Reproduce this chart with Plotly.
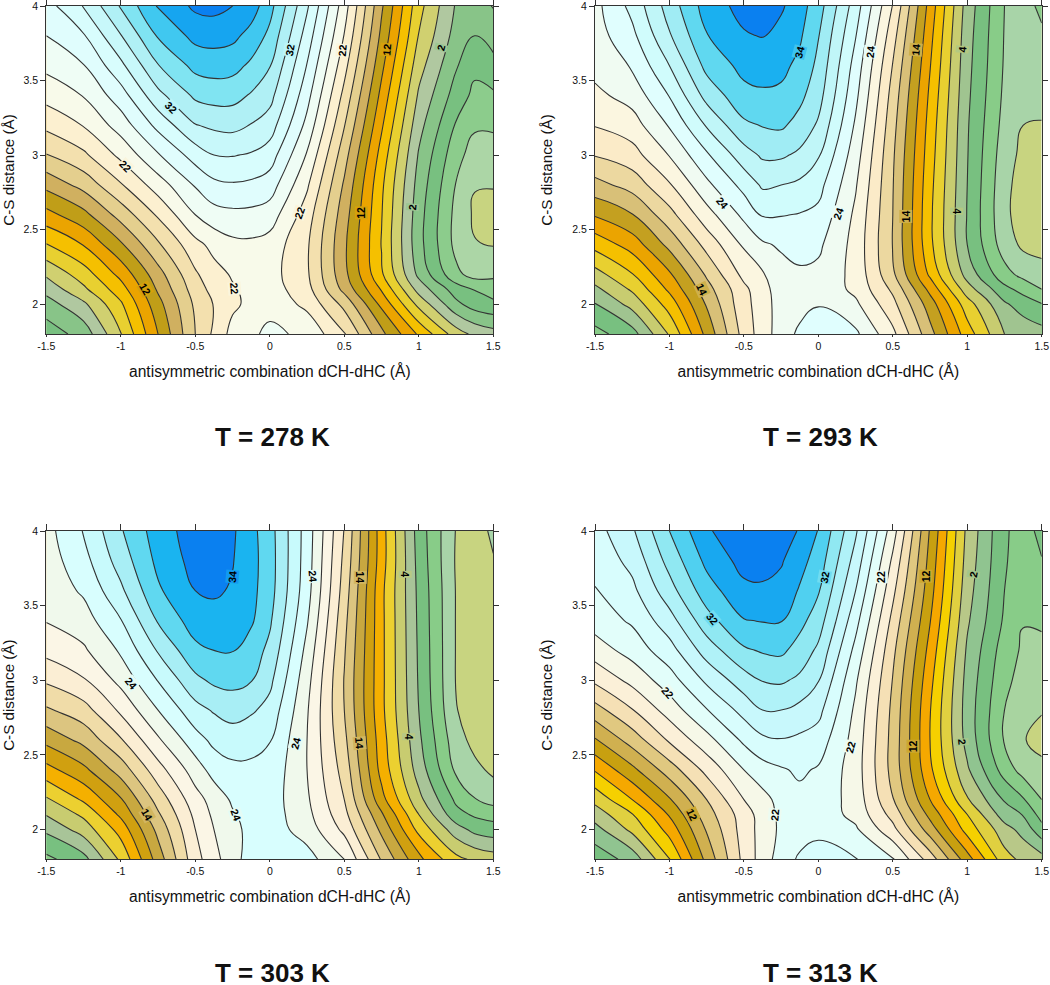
import plotly.graph_objects as go

X_VALUES = [-1.5, -1.25, -1.0, -0.75, -0.5, -0.375, -0.25, -0.125, 0.0, 0.25, 0.5, 0.75, 1.0, 1.25, 1.375, 1.5]
Y_VALUES = [4.0, 3.8, 3.6, 3.4, 3.2, 3.0, 2.8, 2.6, 2.4, 2.2, 2.1, 2.0, 1.8]
X_TICKS = [-1.5, -1, -0.5, 0, 0.5, 1, 1.5]
X_TICK_TEXT = ["-1.5", "-1", "-0.5", "0", "0.5", "1", "1.5"]
Y_TICKS = [2, 2.5, 3, 3.5, 4]
Y_TICK_TEXT = ["2", "2.5", "3", "3.5", "4"]
X_TITLE = "antisymmetric combination dCH-dHC (Å)"
Y_TITLE = "C-S distance (Å)"
TITLES = ["T = 278 K", "T = 293 K", "T = 303 K", "T = 313 K"]

# Rows run from y = 4 (top) down to y = 1.8
Z_278 = [
    [27.2, 30.1, 34.2, 38.2, 40.4, 40.6, 40.0, 39.0, 36.7, 30.3, 22.9, 14.3, 6.7, 1.8, 1.2, 2.1],
    [26.0, 27.8, 31.9, 36.2, 38.6, 38.8, 38.5, 37.3, 35.5, 29.1, 21.9, 13.5, 5.9, 1.2, 0.0, 0.9],
    [24.5, 25.9, 29.5, 33.9, 36.6, 36.9, 36.7, 35.6, 34.1, 27.9, 20.7, 12.5, 4.8, 0.2, -1.5, -0.7],
    [22.7, 24.1, 27.1, 31.4, 34.4, 34.8, 34.7, 33.8, 32.7, 26.7, 19.4, 11.4, 3.7, -0.9, -2.5, -2.3],
    [20.5, 22.1, 24.9, 28.6, 31.9, 32.4, 32.6, 31.9, 31.0, 25.4, 18.1, 10.3, 2.7, -2.2, -3.7, -3.7],
    [17.9, 19.6, 22.5, 25.8, 28.9, 30.0, 30.1, 29.8, 29.0, 23.8, 16.8, 9.2, 1.8, -3.3, -4.9, -4.9],
    [14.6, 16.7, 19.8, 23.0, 26.2, 27.5, 27.8, 27.6, 27.0, 22.3, 15.7, 8.4, 1.2, -4.1, -5.9, -5.9],
    [11.3, 13.4, 16.8, 20.3, 24.0, 25.2, 25.5, 25.45, 25.0, 21.0, 14.9, 8.1, 0.8, -4.6, -6.3, -6.6],
    [7.9, 10.1, 13.7, 17.7, 21.4, 22.6, 23.5, 23.6, 23.2, 20.3, 14.4, 7.9, 0.7, -4.6, -5.9, -6.1],
    [4.3, 7.0, 10.6, 15.2, 19.7, 21.3, 22.2, 22.7, 22.8, 20.3, 14.6, 8.3, 1.5, -3.5, -4.8, -4.4],
    [2.7, 5.6, 9.1, 14.3, 19.0, 20.7, 21.8, 22.5, 23.0, 20.7, 15.4, 9.8, 3.2, -1.0, -2.1, -3.0],
    [1.1, 3.6, 7.7, 13.3, 18.4, 20.1, 21.6, 22.5, 23.3, 21.5, 17.4, 11.5, 5.4, 0.5, -0.9, -1.5],
    [-1.1, 0.8, 5.9, 12.0, 18.0, 20.4, 22.7, 23.6, 24.5, 23.5, 20.2, 14.5, 9.7, 5.0, 3.5, 2.8],
]
Z_293 = [
    [23.4, 26.6, 30.9, 34.9, 36.7, 37.0, 36.3, 34.8, 32.9, 27.0, 19.9, 11.2, 3.1, -2.0, -2.7, -1.6],
    [23.1, 25.5, 29.8, 33.9, 35.8, 36.1, 35.3, 34.3, 32.1, 26.1, 18.8, 10.6, 2.8, -2.1, -2.9, -2.3],
    [22.7, 24.2, 28.0, 32.6, 34.6, 34.8, 34.5, 33.5, 31.5, 25.2, 17.9, 10.1, 2.6, -2.2, -3.3, -2.9],
    [21.5, 22.8, 26.1, 30.7, 33.4, 33.7, 33.6, 32.5, 30.8, 24.5, 17.2, 9.6, 2.4, -2.4, -3.7, -3.5],
    [20.1, 21.1, 24.2, 28.2, 31.6, 32.1, 32.3, 31.3, 29.7, 23.7, 16.7, 9.2, 2.2, -2.7, -4.0, -4.1],
    [18.1, 19.2, 22.1, 25.7, 29.1, 30.3, 30.3, 29.6, 28.2, 22.9, 16.3, 8.9, 2.1, -3.1, -4.5, -4.6],
    [15.3, 16.8, 19.8, 23.5, 26.7, 28.3, 28.0, 27.6, 26.7, 22.2, 16.1, 8.6, 2.0, -3.4, -4.9, -4.9],
    [12.2, 13.9, 17.3, 21.2, 24.5, 26.2, 26.1, 25.9, 25.5, 21.6, 16.0, 8.4, 1.9, -3.5, -5.0, -5.0],
    [8.7, 10.9, 14.6, 18.7, 22.3, 23.7, 24.3, 24.7, 24.4, 21.3, 15.9, 8.5, 2.0, -3.0, -4.4, -4.7],
    [5.2, 7.9, 11.7, 16.3, 20.6, 21.8, 23.2, 23.7, 23.5, 21.4, 16.4, 9.6, 3.2, -1.3, -2.6, -3.2],
    [3.5, 6.3, 10.4, 15.2, 19.5, 21.3, 23.0, 23.5, 23.5, 21.5, 17.6, 11.4, 4.9, 0.6, -0.7, -2.0],
    [1.9, 4.7, 8.9, 14.2, 19.4, 20.9, 23.1, 23.3, 23.9, 22.4, 18.6, 13.0, 6.9, 2.3, 1.1, 0.1],
    [-0.7, 1.2, 6.2, 12.6, 18.8, 21.0, 23.0, 24.4, 25.0, 24.4, 20.5, 14.7, 9.0, 4.0, 3.3, 2.8],
]
Z_303 = [
    [23.3, 26.1, 29.8, 33.0, 35.0, 35.4, 34.3, 32.6, 30.8, 25.1, 17.9, 8.9, 1.1, -4.1, -4.7, -3.7],
    [23.0, 25.3, 28.9, 32.5, 34.7, 35.2, 34.1, 32.7, 30.9, 25.0, 17.5, 8.9, 1.3, -4.2, -4.8, -4.1],
    [22.7, 24.3, 27.6, 31.7, 34.0, 34.3, 33.8, 32.6, 30.8, 24.8, 17.1, 8.5, 1.5, -4.1, -4.9, -4.6],
    [22.1, 23.1, 25.9, 30.2, 33.0, 33.2, 33.2, 32.3, 30.3, 24.2, 16.6, 8.5, 1.6, -4.1, -5.0, -4.9],
    [20.6, 21.7, 24.3, 28.2, 31.5, 32.0, 32.1, 31.0, 29.5, 23.4, 16.2, 8.5, 1.7, -4.1, -5.0, -5.1],
    [18.3, 19.8, 22.6, 26.1, 29.5, 30.4, 30.6, 30.1, 28.5, 22.7, 15.9, 8.5, 1.8, -4.1, -5.1, -5.2],
    [15.7, 17.2, 20.4, 24.0, 27.3, 28.2, 28.8, 28.3, 27.3, 22.2, 16.0, 8.5, 2.0, -3.9, -5.0, -5.3],
    [12.6, 14.6, 17.8, 21.7, 25.2, 26.5, 27.0, 26.5, 26.1, 22.0, 16.5, 8.9, 2.4, -3.2, -4.6, -5.1],
    [9.3, 11.5, 14.9, 19.2, 23.0, 24.8, 25.5, 25.7, 25.4, 22.0, 17.2, 9.3, 3.1, -2.4, -3.5, -4.4],
    [5.7, 8.3, 11.8, 16.8, 21.2, 22.8, 24.3, 25.0, 25.0, 22.3, 18.0, 10.7, 4.6, -0.4, -1.9, -2.8],
    [4.1, 6.4, 10.4, 15.7, 20.5, 22.4, 23.8, 24.7, 25.0, 22.6, 18.6, 12.3, 6.0, 0.7, -0.3, -0.8],
    [2.4, 4.9, 8.8, 14.6, 20.0, 22.0, 23.4, 24.6, 25.0, 23.1, 19.5, 13.5, 7.4, 2.9, 1.4, 0.9],
    [-0.5, 1.3, 6.4, 12.9, 19.3, 21.2, 23.4, 24.7, 25.6, 24.8, 22.0, 15.8, 10.5, 6.6, 5.6, 5.0],
]
Z_313 = [
    [25.2, 27.7, 32.0, 35.7, 37.6, 37.8, 37.1, 35.8, 33.9, 28.3, 20.9, 11.8, 3.5, -1.7, -2.9, -1.4],
    [24.6, 26.6, 30.7, 34.5, 36.7, 36.9, 36.2, 34.7, 33.1, 27.2, 19.6, 11.3, 3.2, -1.8, -3.0, -2.1],
    [23.9, 25.5, 29.2, 33.1, 35.5, 35.6, 35.3, 33.8, 32.2, 26.0, 18.5, 10.8, 2.8, -2.0, -3.4, -3.0],
    [22.9, 24.3, 27.2, 31.2, 33.9, 34.1, 34.1, 32.6, 31.0, 24.7, 17.4, 10.1, 2.3, -2.3, -3.9, -3.7],
    [21.0, 22.8, 25.2, 28.9, 31.7, 32.2, 32.4, 31.2, 29.6, 23.4, 16.5, 9.3, 1.7, -3.0, -4.3, -4.5],
    [18.4, 20.6, 23.1, 26.4, 29.1, 30.1, 30.3, 29.6, 28.1, 22.3, 15.9, 8.6, 1.3, -3.5, -4.7, -5.0],
    [15.2, 17.9, 20.9, 23.9, 26.7, 28.0, 28.0, 27.4, 26.6, 21.6, 15.5, 8.1, 1.1, -4.0, -5.4, -5.9],
    [11.8, 14.9, 18.3, 21.3, 24.4, 25.6, 25.9, 25.6, 25.1, 21.2, 15.3, 8.0, 1.3, -4.2, -5.9, -6.5],
    [8.2, 11.5, 15.0, 18.6, 22.0, 23.2, 23.8, 24.3, 23.8, 21.0, 15.3, 8.4, 2.3, -2.9, -4.8, -5.6],
    [4.6, 8.0, 11.8, 16.0, 20.0, 21.3, 22.7, 23.5, 23.3, 21.2, 16.1, 10.0, 4.2, -0.2, -1.8, -4.0],
    [2.9, 5.9, 10.2, 15.1, 19.0, 20.9, 22.5, 23.2, 23.2, 21.4, 17.3, 11.4, 6.0, 1.0, -0.1, -2.8],
    [1.3, 4.5, 8.8, 14.2, 18.9, 20.8, 22.4, 23.1, 23.6, 22.3, 18.6, 13.0, 7.2, 2.8, 1.3, -1.3],
    [-1.3, 0.8, 5.9, 12.6, 18.6, 20.9, 23.0, 24.3, 24.7, 24.1, 22.2, 17.1, 10.9, 4.8, 3.5, 2.8],
]
GRIDS = [Z_278, Z_293, Z_303, Z_313]

START_LEVELS = [-6, -4, -4, -6]
END_LEVELS = [40, 36, 34, 36]

COLORS_278 = ["#c8d480", "#acd6a6", "#8ccc8c", "#78c080", "#88c488", "#b0c8a0", "#d0d070", "#e8d030",
              "#f5c000", "#eba400", "#c09e18", "#d0b060", "#e4cf8e", "#f3e0ae", "#fcf0d0", "#f8faea",
              "#effdf5", "#e0fdfd", "#d8fdfd", "#c8f8fa", "#b0f0f5", "#80e4f2", "#40c8f0", "#16a5f0", "#0a80f0"]
COLORS_293 = ["#c8d480", "#a8d4a8", "#88cc88", "#78c080", "#a0c490", "#c8cc70", "#e8d030", "#f5c000",
              "#eba400", "#c4a020", "#d8c078", "#ecd8a0", "#fbebc8", "#fbf6e0", "#f0fbf2", "#e0fefe",
              "#d0fcfc", "#c0f6f8", "#a0ecf4", "#60d8f0", "#1ab0f0", "#0a80f0"]
COLORS_303 = ["#c8d480", "#a8d4a8", "#88cc88", "#78c080", "#a8c498", "#c8cc70", "#ecd030", "#f5b000",
              "#d0a010", "#c8a840", "#dcc580", "#f0dca8", "#fbeed4", "#fbf6e6", "#f0f9ec", "#d8fefe",
              "#c8fafc", "#a8eef5", "#60d8f0", "#1ab4f0", "#0a80f0"]
COLORS_313 = ["#c8d480", "#a8d4a0", "#88cc88", "#78c080", "#90c490", "#b8c888", "#e0d040", "#f5d000",
              "#f5a800", "#c8a010", "#d0b050", "#e0c880", "#f5e0b5", "#fbf0d8", "#f6f8e8", "#e2fefa",
              "#d8fdfd", "#c8f8fc", "#b0f2f8", "#90e8f2", "#50d0f0", "#18a8f0", "#0a80f0"]
PALETTES = [COLORS_278, COLORS_293, COLORS_303, COLORS_313]

# (level, x, y, angle)
LABELS_278 = [(32, 0.135, 3.705, -80), (32, -0.666, 3.32, 45), (22, -0.968, 2.93, 45), (22, 0.20, 2.61, -70),
              (22, -0.234, 2.105, 85), (12, -0.838, 2.10, 60), (12, 0.616, 2.61, -90), (12, 0.784, 3.705, -85),
              (22, 0.487, 3.705, -85), (2, 1.147, 3.72, -75), (2, 0.956, 2.653, -85)]
LABELS_293 = [(34, -0.128, 3.693, -75), (24, 0.347, 3.693, -85), (14, 0.654, 3.705, -85), (4, 0.967, 3.711, -85),
              (24, -0.645, 2.676, 50), (24, 0.13, 2.608, -70), (14, 0.586, 2.586, -90), (4, 0.929, 2.626, 90),
              (14, -0.784, 2.10, 65)]
LABELS_303 = [(34, -0.254, 3.694, -85), (24, 0.292, 3.694, 85), (14, 0.605, 3.69, 90), (4, 0.907, 3.71, 90),
              (24, -0.932, 2.979, 50), (24, 0.176, 2.577, -75), (14, 0.60, 2.577, 85), (4, 0.934, 2.622, 90),
              (24, -0.227, 2.097, 70), (14, -0.822, 2.097, 60)]
LABELS_313 = [(32, 0.04, 3.694, -80), (22, 0.425, 3.69, -90), (12, 0.72, 3.694, -90), (2, 1.041, 3.712, -80),
              (32, -0.712, 3.408, 50), (22, -1.008, 2.917, 50), (22, 0.217, 2.55, -75), (12, 0.633, 2.555, -90),
              (2, 0.969, 2.589, 85), (22, -0.296, 2.10, -85), (12, -0.846, 2.097, 65)]
LABELS = [LABELS_278, LABELS_293, LABELS_303, LABELS_313]

W, H = 1050, 985
PANEL_X = [(46.3, 493.3), (595.0, 1041.7), (46.3, 493.3), (595.0, 1041.7)]
PANEL_Y = [(6.0, 334.0), (6.0, 334.0), (531.0, 859.3), (531.0, 859.3)]
TITLE_POS = [(272, 437), (820, 437), (272, 973), (820, 973)]
FONT = "Liberation Sans, Arial, Helvetica, sans-serif"
INK = "#111111"


def blend(a, b):
    """Mid colour of the two bands either side of a labelled line, used behind the label."""
    pa = [int(a[j:j + 2], 16) for j in (1, 3, 5)]
    pb = [int(b[j:j + 2], 16) for j in (1, 3, 5)]
    return "#%02x%02x%02x" % tuple((p + q) // 2 for p, q in zip(pa, pb))


fig = go.Figure()
annotations = []
layout_axes = {}

for i in range(4):
    n = i + 1
    xa, ya = f"x{n}", f"y{n}"
    levels = (END_LEVELS[i] - START_LEVELS[i]) // 2 + 1
    pal = PALETTES[i]
    scale = [[k / levels, c] for k, c in enumerate(pal)]
    fig.add_trace(go.Contour(
        x=X_VALUES, y=Y_VALUES[::-1], z=GRIDS[i][::-1],
        xaxis=xa, yaxis=ya,
        colorscale=scale, showscale=False,
        contours=dict(start=START_LEVELS[i], end=END_LEVELS[i], size=2, coloring="fill", showlines=True),
        line=dict(color="#333333", width=1.1, smoothing=1.3),
        hoverinfo="skip",
    ))
    fig.add_trace(go.Scatter(x=[None], y=[None], xaxis=f"x{n+4}", yaxis=ya, showlegend=False, hoverinfo="skip"))

    x0, x1 = PANEL_X[i]
    y0, y1 = PANEL_Y[i]
    dom_x = [x0 / W, x1 / W]
    dom_y = [1 - y1 / H, 1 - y0 / H]
    common = dict(tickfont=dict(family=FONT, size=10.5, color=INK), color=INK, linecolor="#333333",
                  linewidth=1.2, showgrid=False, zeroline=False, tickcolor="#333333", tickwidth=1.1,
                  automargin=False, ticklabeloverflow="allow")
    layout_axes[f"xaxis{n}"] = dict(
        domain=dom_x, range=[-1.5, 1.5], anchor=ya, tickmode="array", tickvals=X_TICKS, ticktext=X_TICK_TEXT,
        ticks="outside", ticklen=2, mirror=True, showline=True,
        title=dict(text=X_TITLE, font=dict(family=FONT, size=15.6, color=INK)), **common)
    layout_axes[f"xaxis{n+4}"] = dict(
        domain=dom_x, range=[-1.5, 1.5], anchor=ya, overlaying=xa, side="top", tickmode="array", tickvals=X_TICKS,
        ticks="outside", ticklen=6, showticklabels=False, showline=False, showgrid=False, zeroline=False,
        tickcolor="#333333", tickwidth=1.1)
    layout_axes[f"yaxis{n}"] = dict(
        domain=dom_y, range=[1.8, 4], anchor=xa, tickmode="array", tickvals=Y_TICKS, ticktext=Y_TICK_TEXT,
        ticks="outside", ticklen=5, mirror="allticks", showline=True,
        title=dict(text=Y_TITLE, font=dict(family=FONT, size=15.2, color=INK)), **common)

    for level, lx, ly, ang in LABELS[i]:
        band = (level - START_LEVELS[i]) // 2
        annotations.append(dict(
            x=lx, y=ly, xref=xa, yref=ya, text=f"<b>{level}</b>", showarrow=False, textangle=ang,
            font=dict(family=FONT, size=10.5, color="#000000"), bgcolor=blend(pal[band], pal[band + 1]), borderpad=0,
        ))
    tx, ty = TITLE_POS[i]
    annotations.append(dict(
        x=tx / W, y=1 - ty / H, xref="paper", yref="paper", text=f"<b>{TITLES[i]}</b>", showarrow=False,
        font=dict(family=FONT, size=26, color="#111111"), xanchor="center", yanchor="middle",
    ))

fig.update_layout(
    width=W, height=H, margin=dict(l=0, r=0, t=0, b=0), paper_bgcolor="white", plot_bgcolor="white",
    showlegend=False, annotations=annotations, **layout_axes,
)
fig.write_html("out.html", config={"displayModeBar": False},
               post_script="document.body.style.margin='0';document.body.style.overflow='hidden';")
